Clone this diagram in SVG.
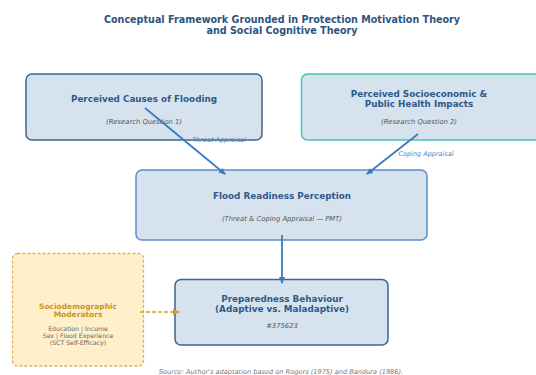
<svg xmlns="http://www.w3.org/2000/svg" width="536" height="375" viewBox="0 0 536 375">
<style>
text{font-family:"DejaVu Sans",sans-serif;text-anchor:middle}
.title{font-size:9.6px;font-weight:bold;fill:#2e5480}
.h{font-size:8.8px;font-weight:bold;fill:#2d5a8a}
.sub{font-size:6.8px;font-style:italic;fill:#555}
.box{fill:#d6e3ef;stroke-width:1.5}
.lbl{font-size:6.5px;font-style:italic;fill:#4a86c6}
.conn{stroke:#3a7cc0;stroke-width:1.8;fill:none}
</style>
<defs>
<marker id="ah" markerWidth="8" markerHeight="8" refX="6" refY="4" orient="auto" markerUnits="userSpaceOnUse"><path d="M0,1 L7,4 L0,7 z" fill="#3a7cc0"/></marker>
<marker id="ahy" markerWidth="8" markerHeight="8" refX="6" refY="4" orient="auto" markerUnits="userSpaceOnUse"><path d="M0,1 L7,4 L0,7 z" fill="#d4a020"/></marker>
</defs>
<rect width="536" height="375" fill="#fff"/>
<text class="title" x="282" y="22.5">Conceptual Framework Grounded in Protection Motivation Theory</text>
<text class="title" x="282" y="34">and Social Cognitive Theory</text>

<g id="causes">
<rect class="box" x="26" y="74" width="236" height="66" rx="6" stroke="#3d6590"/>
<text class="h" x="144" y="102">Perceived Causes of Flooding</text>
<text class="sub" x="144" y="124">(Research Question 1)</text>
</g>
<g id="impacts">
<rect class="box" x="301.5" y="74" width="240" height="66" rx="6" stroke="#45c2b4"/>
<text class="h" x="419" y="97">Perceived Socioeconomic &amp;</text>
<text class="h" x="419" y="107">Public Health Impacts</text>
<text class="sub" x="419" y="124">(Research Question 2)</text>
</g>
<g id="readiness">
<rect class="box" x="136" y="170" width="291" height="70" rx="6" stroke="#5a8fc4"/>
<text class="h" x="282" y="199">Flood Readiness Perception</text>
<text class="sub" x="282" y="221">(Threat &amp; Coping Appraisal — PMT)</text>
</g>
<g id="behaviour">
<rect class="box" x="175" y="279.5" width="213" height="65.5" rx="6" stroke="#3d6590"/>
<text class="h" x="282" y="302">Preparedness Behaviour</text>
<text class="h" x="282" y="312">(Adaptive vs. Maladaptive)</text>
<text class="sub" x="282" y="328">#375623</text>
</g>
<g id="moderators">
<rect x="12.5" y="253.5" width="131" height="112.5" rx="5" fill="#fff0cc" stroke="#e0b050" stroke-width="1.3" stroke-dasharray="3,2"/>
<text x="78" y="309" style="font-size:7.5px;font-weight:bold;fill:#c8961e">Sociodemographic</text>
<text x="78" y="317" style="font-size:7.5px;font-weight:bold;fill:#c8961e">Moderators</text>
<text x="78" y="331" style="font-size:6.2px;fill:#666">Education | Income</text>
<text x="78" y="338" style="font-size:6.2px;fill:#666">Sex | Flood Experience</text>
<text x="78" y="345" style="font-size:6.2px;fill:#666">(SCT Self-Efficacy)</text>
</g>
<g id="connectors">
<line class="conn" x1="145" y1="108" x2="225" y2="174" marker-end="url(#ah)"/>
<line class="conn" x1="418" y1="134" x2="367" y2="174" marker-end="url(#ah)"/>
<line class="conn" x1="282" y1="235" x2="282" y2="283" marker-end="url(#ah)"/>
<line x1="140" y1="312" x2="179" y2="312" stroke="#d4a020" stroke-width="1.4" stroke-dasharray="4,2" marker-end="url(#ahy)"/>
<text class="lbl" x="219" y="142">Threat Appraisal</text>
<text class="lbl" x="426" y="156">Coping Appraisal</text>
</g>
<text x="281" y="374" style="font-size:6.6px;font-style:italic;fill:#777">Source: Author's adaptation based on Rogers (1975) and Bandura (1986).</text>
</svg>
